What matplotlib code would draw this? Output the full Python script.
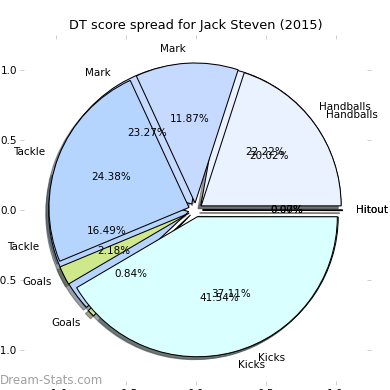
import matplotlib.pyplot as plt

labels = ['Handballs', 'Mark', 'Tackle', 'Goals', 'Kicks', 'Hitout']
colors = ['#eaf1ff', '#c6d9ff', '#b5d5ff', '#cfe88c', '#d9ffff', '#ffe4c4']
# two seasons of DT score share (%), drawn one on top of the other
career = [22.22, 23.27, 16.49, 0.84, 37.11, 0.07]
season = [20.02, 11.87, 24.38, 2.18, 41.54, 0.0]
explode = [0.05] * 6
ticks = [-1.0, -0.5, 0.0, 0.5, 1.0]

fig = plt.figure(figsize=(5.2, 5.2), dpi=75)
ax = fig.add_axes([20 / 390, 5 / 390, 351 / 390, 350 / 390])

for vals in (career, season):
    ax.pie(vals, explode=explode, labels=labels, colors=colors,
           autopct='%1.2f%%', shadow=True, frame=True,
           wedgeprops={'edgecolor': 'black', 'linewidth': 1},
           textprops={'fontsize': 10})

ax.set_frame_on(False)
ax.set_xlim(-1.25, 1.25)
ax.set_ylim(-1.25, 1.25)
ax.set_xticks(ticks)
ax.set_yticks(ticks)
ax.tick_params(direction='in', top=True, right=True, color='#c8c8c8',
               length=3.5, labelsize=10)
ax.set_title('DT score spread for Jack Steven (2015)', fontsize=12.4)

fig.text(0.0, 0.025, 'Dream-Stats.com', color='#a0a0a0', fontsize=11.3,
         va='center', ha='left')

fig.savefig('out.png', dpi=75)
